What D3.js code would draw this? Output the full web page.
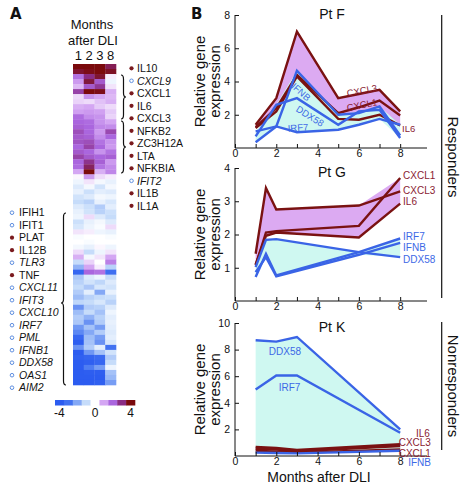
<!DOCTYPE html>
<html><head><meta charset="utf-8">
<script src="https://cdn.jsdelivr.net/npm/d3@7"></script>
<style>
body{margin:0;background:#fff}
svg{display:block}
text{font-family:"Liberation Sans",Arial,Helvetica,sans-serif;fill:#111}
</style>
</head><body>
<svg id="chart" width="469" height="487"></svg>
<script>
// ---------- Panel A data ----------
const heatColumns = ["1", "2", "3", "8"];
const heatValues = [
  [4.0, 4.0, 4.0, 3.4], [3.7, 3.9, 4.0, 3.8], [1.8, 3.0, 3.7, 0.2], [1.2, 3.6, 2.2, -0.3],
  [0.8, 2.2, 2.8, 0.3], [2.6, 4.0, 3.9, 0.9], [0.4, 1.3, 1.0, 0.8], [0.5, 0.4, 0.7, 0.9],
  [0.9, 1.0, 0.6, 0.4], [1.1, 1.2, 1.1, 0.6], [1.9, 1.4, 1.3, 0.5], [2.0, 1.9, 1.3, 1.0],
  [2.1, 2.0, 1.5, 1.4], [2.4, 2.0, 1.2, 2.5], [2.2, 2.1, 1.4, 2.0], [2.3, 2.4, 1.8, 1.3],
  [2.0, 2.6, 2.0, 1.2], [2.2, 2.0, 1.3, 1.8], [2.6, 2.2, 2.0, 2.1], [2.0, 2.9, 2.1, 1.2],
  [1.9, 3.3, 1.8, 1.4], [1.0, 4.0, 0.9, 1.5], [0.1, 1.2, 0.4, 0.2], [-0.3, 0.3, -0.2, -0.4],
  [-0.6, -0.2, -0.8, -0.2], [-0.4, -0.9, -0.5, -0.6], [-0.8, -0.6, -0.2, -0.3], [-1.0, -1.2, -0.4, -0.7],
  [-0.6, -0.9, -1.3, -0.5], [-0.4, -0.8, -1.2, -0.9], [-0.3, 0.4, -0.6, -1.0], [-0.9, -0.4, -0.2, -0.6],
  [-0.7, -0.3, -0.1, 0.4], [0.3, 0.2, -0.3, -0.4], [-0.1, 0.0, 0.0, -0.1], [0.0, -0.1, 0.0, 0.0],
  [-0.2, -0.4, 0.1, -0.3], [0.4, -1.0, -0.3, 0.3], [0.9, -0.2, 0.3, 1.0], [-1.0, 0.5, 0.0, 1.6],
  [-1.8, 1.0, 0.2, -1.2], [-3.6, 2.0, 1.8, -3.2], [-1.4, -0.6, -0.3, -1.0], [-1.2, -0.8, -1.1, -0.6],
  [-1.0, -1.4, -0.7, -0.8], [-1.3, -0.5, -2.0, -0.4], [-1.6, -1.2, -1.0, -0.9], [-1.1, -1.0, -0.7, -1.2],
  [-2.4, -1.3, -1.2, -0.6], [-1.6, -1.0, -1.5, -0.3], [-1.3, -1.8, -1.2, -0.5], [-1.4, -2.4, -1.3, -0.4],
  [-2.3, -1.5, -2.2, -0.5], [-2.6, -2.0, -1.3, -0.6], [-3.5, -1.6, -2.2, -0.5], [-3.9, -1.5, -2.4, -0.7],
  [-2.4, -1.3, -0.5, -3.0], [-4.0, -2.3, -1.5, -0.8], [-3.8, -3.6, -3.3, -1.3], [-4.0, -3.8, -3.5, -1.0],
  [-4.0, -2.8, -2.2, -0.3], [-4.0, -3.9, -3.9, -1.5], [-4.0, -4.0, -4.0, -1.7], [-4.0, -4.0, -3.8, -2.2]
];
const colorStops = [-4, -3, -2, -1, 0, 1, 2, 3, 4];
const colorbarColors = ["#2c5cf0", "#4272f1", "#84a8f5", "#c6dcfa", "#ffffff", "#d4a6f3", "#aa66de", "#8a2c84", "#7a0a0c"];
const colorbarTicks = [-4, 0, 4];

const rightGenes  = ["IL10", "CXCL9", "CXCL1", "IL6", "CXCL3", "NFKB2", "ZC3H12A", "LTA", "NFKBIA", "IFIT2", "IL1B", "IL1A"];
const rightFilled = [true, false, true, true, true, true, true, true, true, false, true, true];
const rightItalic = [false, true, false, false, false, false, false, false, false, true, false, false];
const leftGenes  = ["IFIH1", "IFIT1", "PLAT", "IL12B", "TLR3", "TNF", "CXCL11", "IFIT3", "CXCL10", "IRF7", "PML", "IFNB1", "DDX58", "OAS1", "AIM2"];
const leftFilled = [false, false, true, true, false, true, false, false, false, false, false, false, false, false, false];
const leftItalic = [false, false, false, false, true, false, true, true, true, true, true, true, true, true, true];

// ---------- Panel B data ----------
const monthsF = [1, 2, 3, 5, 6, 7, 8];
const ptF_CXCL3 = [1.4, 3.0, 7.0, 3.0, 3.25, 3.5, 2.2];
const ptF_CXCL1 = [1.25, 2.4, 4.4, 2.1, 2.45, 2.85, 1.95];
const ptF_IL6   = [1.2, 2.2, 4.3, 1.75, 1.7, 2.0, 1.35];
const ptF_IFNB  = [0.35, 1.3, 4.65, 2.0, 2.1, 2.5, 0.75];
const ptF_DDX58 = [0.7, 2.6, 3.0, 1.4, 2.2, 2.3, 0.6];
const ptF_IRF7  = [1.0, 1.3, 0.95, 1.1, 1.4, 1.75, 1.4];

const monthsG = [1, 1.5, 2, 6, 8];
const ptG_CXCL1 = [1.07, 2.06, 2.1, 2.26, 3.7];
const ptG_CXCL3 = [1.42, 3.4, 2.75, 2.87, 3.3];
const ptG_IL6   = [1.1, 1.96, 2.06, 1.91, 2.93];
const ptG_IRF7  = [0.72, 1.42, 0.77, 1.47, 1.88];
const ptG_IFNB  = [0.87, 1.32, 0.74, 1.39, 1.75];
const ptG_DDX58 = [1.02, 1.84, 1.86, 1.47, 1.32];

const monthsK = [1, 2, 3, 8];
const ptK_IL6   = [0.68, 0.6, 0.45, 0.88];
const ptK_CXCL3 = [0.55, 0.48, 0.35, 0.75];
const ptK_CXCL1 = [0.4, 0.33, 0.25, 0.5];
const ptK_DDX58 = [8.7, 8.6, 8.95, 2.0];
const ptK_IRF7  = [5.0, 6.05, 6.05, 1.75];
const ptK_IFNB  = [0.25, 0.22, 0.2, 0.4];

const xTicks = [0, 1, 2, 3, 4, 5, 6, 7, 8];

// ---------- drawing ----------
const svg = d3.select("#chart");
const RED = "#7a1212", BLUE = "#3a64e6", RED_T = "#8a1c32", BLUE_T = "#3c68e6";
const PURPLE_FILL = "#dcaaf2", CYAN_FILL = "#cff8f1";

// Panel letters
svg.append("text").attr("x", 10).attr("y", 19).attr("font-size", 15).attr("font-weight", 900)
  .style("font-family", "'DejaVu Sans',sans-serif").text("A");
svg.append("text").attr("x", 191).attr("y", 19).attr("font-size", 15).attr("font-weight", 900)
  .style("font-family", "'DejaVu Sans',sans-serif").text("B");

// Heatmap header
svg.append("text").attr("x", 92).attr("y", 29).attr("text-anchor", "middle").attr("font-size", 13).text("Months");
svg.append("text").attr("x", 93).attr("y", 45).attr("text-anchor", "middle").attr("font-size", 13).text("after DLI");

const hx = d3.scaleBand().domain(heatColumns).range([73, 116]);
const hy = d3.scaleBand().domain(d3.range(heatValues.length)).range([64, 385]);
const color = d3.scaleLinear().domain(colorStops).range(colorbarColors).clamp(true);

svg.append("g").selectAll("text").data(heatColumns).join("text")
  .attr("x", d => hx(d) + hx.bandwidth() / 2).attr("y", 60)
  .attr("text-anchor", "middle").attr("font-size", 13).text(d => d);

const hg = svg.append("g");
heatValues.forEach((row, i) => {
  row.forEach((v, j) => {
    hg.append("rect")
      .attr("x", hx(heatColumns[j])).attr("y", hy(i))
      .attr("width", hx.bandwidth() + 0.3).attr("height", hy.bandwidth() + 0.3)
      .attr("fill", color(v));
  });
});

// gene labels
function geneList(names, filled, italic, dotX, textX, y0, step) {
  const g = svg.append("g");
  names.forEach((n, i) => {
    const y = y0 + step * i;
    if (filled[i]) g.append("circle").attr("cx", dotX).attr("cy", y).attr("r", 2.1).attr("fill", "#7a1a1e");
    else g.append("circle").attr("cx", dotX).attr("cy", y).attr("r", 1.8).attr("fill", "none").attr("stroke", "#5f8fe0").attr("stroke-width", 1);
    g.append("text").attr("x", textX).attr("y", y).attr("dy", "0.36em").attr("font-size", 10.5)
      .attr("font-style", italic[i] ? "italic" : "normal").text(n);
  });
}
geneList(rightGenes, rightFilled, rightItalic, 131.5, 137, 68.3, 12.5);
geneList(leftGenes, leftFilled, leftItalic, 12, 19, 212.7, 12.5);

// braces
function brace(x0, y0, y1, w, ym, dir) {
  const xm = x0 + dir * w / 2, xt = x0 + dir * w, d = Math.min(4, (y1 - y0) / 4);
  const p = `M${x0},${y0} Q${xm},${y0} ${xm},${y0 + d} L${xm},${ym - d} Q${xm},${ym} ${xt},${ym} Q${xm},${ym} ${xm},${ym + d} L${xm},${y1 - d} Q${xm},${y1} ${x0},${y1}`;
  svg.append("path").attr("d", p).attr("fill", "none").attr("stroke", "#111").attr("stroke-width", 1.2);
}
brace(121, 75, 119, 5, 97, 1);
brace(121, 121, 173, 5, 147, 1);
brace(66, 213, 385, 5, 303, -1);

// colorbar
const cbx = d3.scaleBand().domain(colorStops).range([55, 135]);
svg.append("g").selectAll("rect").data(colorStops).join("rect")
  .attr("x", d => cbx(d)).attr("y", 400).attr("width", cbx.bandwidth() + 0.3).attr("height", 5.5)
  .attr("fill", d => color(d));
svg.append("g").selectAll("text").data(colorbarTicks).join("text")
  .attr("x", d => cbx(d) + cbx.bandwidth() / 2).attr("y", 417)
  .attr("text-anchor", "middle").attr("font-size", 12).text(d => d);

// ---------- line panels ----------
const X0 = 235, X1 = 427;
function panel(cfg) {
  const x = d3.scaleLinear().domain([0, 9.3]).range([X0, X1]);
  const y = d3.scaleLinear().domain(cfg.yDomain).range(cfg.yRange);
  const g = svg.append("g");
  const rows = cfg.months.map((m, i) => {
    const rv = cfg.red.map(s => s.values[i]);
    const bv = cfg.blue.map(s => s.values[i]);
    return { m, rlo: d3.min(rv), rhi: d3.max(rv), blo: d3.min(bv), bhi: d3.max(bv) };
  });
  g.append("path").datum(rows).attr("fill", PURPLE_FILL)
    .attr("d", d3.area().x(d => x(d.m)).y0(d => y(d.rlo)).y1(d => y(d.rhi)));
  g.append("path").datum(rows).attr("fill", CYAN_FILL)
    .attr("d", d3.area().x(d => x(d.m)).y0(d => y(d.blo)).y1(d => y(d.bhi)));
  const line = d3.line().x(d => x(d[0])).y(d => y(d[1]));
  cfg.red.forEach(s => g.append("path").datum(cfg.months.map((m, i) => [m, s.values[i]]))
    .attr("fill", "none").attr("stroke", RED).attr("stroke-width", 2.4).attr("stroke-linejoin", "miter").attr("d", line));
  cfg.blue.forEach(s => g.append("path").datum(cfg.months.map((m, i) => [m, s.values[i]]))
    .attr("fill", "none").attr("stroke", BLUE).attr("stroke-width", 2.4).attr("stroke-linejoin", "miter").attr("d", line));

  // axes
  const ya = d3.axisLeft(y).tickValues(cfg.yTicks).tickSizeInner(-4).tickSizeOuter(0).tickPadding(5).tickFormat(d => String(d));
  const yg = g.append("g").attr("transform", `translate(${X0},0)`).call(ya);
  yg.select(".domain").attr("d", `M0,${cfg.yRange[0]}V${y(cfg.yDomain[1])}`);
  const xa = d3.axisBottom(x).tickValues(xTicks).tickSizeInner(-4).tickSizeOuter(0).tickPadding(1.5)
    .tickFormat(d => d % 2 === 0 ? String(d) : "");
  const xg = g.append("g").attr("transform", `translate(0,${cfg.yRange[0]})`).call(xa);
  xg.select(".domain").attr("d", `M${X0},0H${X1}`);
  [yg, xg].forEach(a => {
    a.selectAll("text").attr("font-size", 10.5).style("font-family", "'Liberation Sans',Arial,sans-serif").attr("fill", "#111");
    a.selectAll("line,path").attr("stroke", "#111").attr("stroke-width", 1);
  });
  xg.selectAll(".tick").filter(d => d % 2 !== 0).select("text").remove();

  // title
  g.append("text").attr("x", 332).attr("y", cfg.titleY).attr("text-anchor", "middle").attr("font-size", 14).text(cfg.title);
  // y label
  const cy = (cfg.yRange[0] + cfg.yRange[1]) / 2;
  const yl = g.append("text").attr("transform", `translate(0,${cy}) rotate(-90)`).attr("text-anchor", "middle").attr("font-size", 15);
  yl.append("tspan").attr("x", 0).attr("y", 205).text("Relative gene");
  yl.append("tspan").attr("x", 0).attr("y", 220).text("expression");
  // series labels
  cfg.labels.forEach(l => {
    const px = x(l.m), py = y(l.v);
    g.append("text").attr("transform", `translate(${px},${py}) rotate(${l.rot || 0})`)
      .attr("dy", "0.35em").attr("text-anchor", l.anchor || "middle").attr("font-size", l.size || 9.5)
      .style("fill", l.c).text(l.t);
  });
  return { x, y };
}

panel({
  months: monthsF, yDomain: [0, 8], yRange: [148, 15], yTicks: [2, 4, 6, 8], title: "Pt F", titleY: 19,
  red: [{ values: ptF_CXCL3 }, { values: ptF_CXCL1 }, { values: ptF_IL6 }],
  blue: [{ values: ptF_IFNB }, { values: ptF_DDX58 }, { values: ptF_IRF7 }],
  labels: [
    { t: "CXCL3", m: 6.15, v: 3.45, rot: -11, c: RED_T },
    { t: "CXCL1", m: 6.15, v: 2.59, rot: -11, c: RED_T },
    { t: "IL6", m: 8.09, v: 1.14, anchor: "start", c: RED_T },
    { t: "IFNB", m: 3.2, v: 3.37, rot: 42, c: BLUE_T },
    { t: "DDX58", m: 3.63, v: 1.92, rot: 32, c: BLUE_T },
    { t: "IRF7", m: 3.05, v: 1.22, rot: -4, c: BLUE_T }
  ]
});

panel({
  months: monthsG, yDomain: [0, 4], yRange: [301, 168], yTicks: [1, 2, 3, 4], title: "Pt G", titleY: 177,
  red: [{ values: ptG_CXCL1 }, { values: ptG_CXCL3 }, { values: ptG_IL6 }],
  blue: [{ values: ptG_IRF7 }, { values: ptG_IFNB }, { values: ptG_DDX58 }],
  labels: [
    { t: "CXCL1", m: 8.14, v: 3.76, anchor: "start", c: RED_T, size: 10 },
    { t: "CXCL3", m: 8.14, v: 3.32, anchor: "start", c: RED_T, size: 10 },
    { t: "IL6", m: 8.14, v: 2.99, anchor: "start", c: RED_T, size: 10 },
    { t: "IRF7", m: 8.14, v: 1.93, anchor: "start", c: BLUE_T, size: 10 },
    { t: "IFNB", m: 8.14, v: 1.6, anchor: "start", c: BLUE_T, size: 10 },
    { t: "DDX58", m: 8.14, v: 1.25, anchor: "start", c: BLUE_T, size: 10 }
  ]
});

panel({
  months: monthsK, yDomain: [0, 10], yRange: [456, 323], yTicks: [2, 4, 6, 8, 10], title: "Pt K", titleY: 332,
  red: [{ values: ptK_IL6 }, { values: ptK_CXCL3 }, { values: ptK_CXCL1 }],
  blue: [{ values: ptK_DDX58 }, { values: ptK_IRF7 }, { values: ptK_IFNB }],
  labels: [
    { t: "DDX58", m: 2.42, v: 7.86, c: BLUE_T, size: 10 },
    { t: "IRF7", m: 2.64, v: 5.15, c: BLUE_T, size: 10 },
    { t: "IL6", m: 9.44, v: 1.72, anchor: "end", c: RED_T, size: 10 },
    { t: "CXCL3", m: 9.49, v: 1.04, anchor: "end", c: RED_T, size: 10 },
    { t: "CXCL1", m: 9.49, v: 0.22, anchor: "end", c: RED_T, size: 10 },
    { t: "IFNB", m: 9.49, v: -0.5, anchor: "end", c: BLUE_T, size: 10 }
  ]
});

svg.append("text").attr("x", 319).attr("y", 482).attr("text-anchor", "middle").attr("font-size", 14).text("Months after DLI");

// group brackets
svg.append("line").attr("x1", 441.7).attr("x2", 441.7).attr("y1", 15).attr("y2", 298).attr("stroke", "#111").attr("stroke-width", 1.2);
svg.append("line").attr("x1", 441.7).attr("x2", 441.7).attr("y1", 322).attr("y2", 450).attr("stroke", "#111").attr("stroke-width", 1.2);
svg.append("text").attr("transform", "translate(448,157) rotate(90)").attr("text-anchor", "middle").attr("font-size", 15).text("Responders");
svg.append("text").attr("transform", "translate(448,386) rotate(90)").attr("text-anchor", "middle").attr("font-size", 15).text("Nonresponders");
</script>
</body></html>
